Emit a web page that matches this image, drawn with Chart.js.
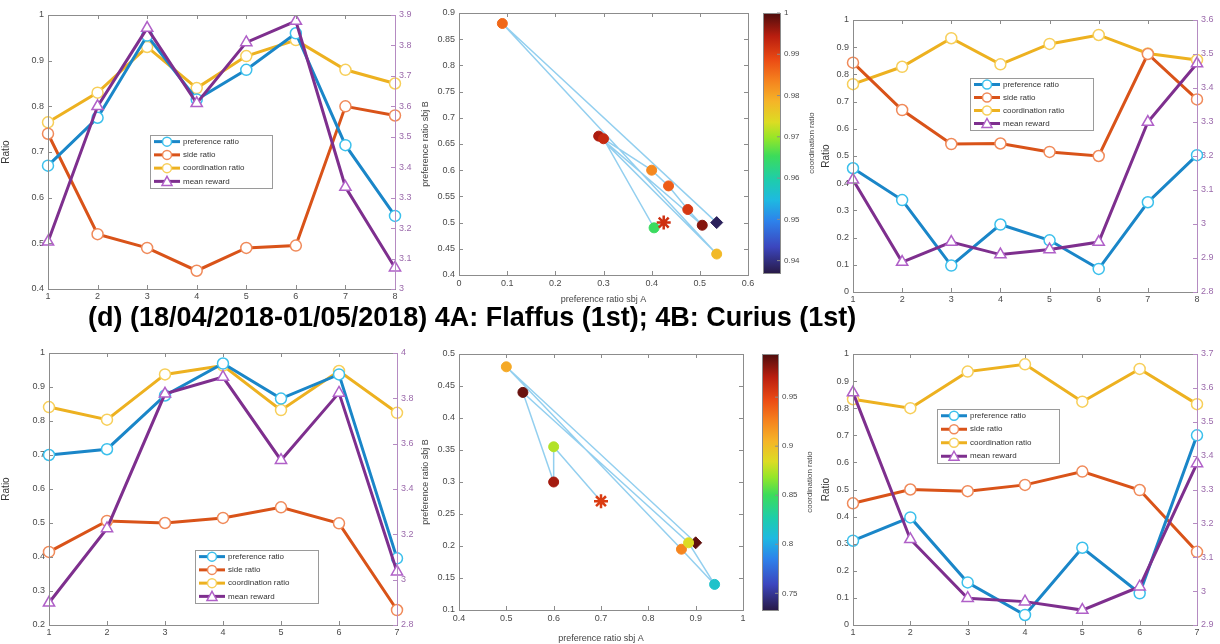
<!DOCTYPE html>
<html>
<head>
<meta charset="utf-8">
<script src="https://cdn.jsdelivr.net/npm/chart.js@4.4.1/dist/chart.umd.min.js"></script>
<style>
  body { margin: 0; background: #fff; width: 1220px; height: 644px; position: relative; overflow: hidden; }
  canvas { position: absolute; }
  #title { position: absolute; left: 88px; top: 302px; font: bold 27px "Liberation Sans", Arial, sans-serif; color: #000; white-space: nowrap; }
</style>
</head>
<body>
<canvas id="c1" width="420" height="305" style="left:0;top:0"></canvas>
<canvas id="c2" width="400" height="305" style="left:420px;top:0"></canvas>
<canvas id="c3" width="400" height="305" style="left:820px;top:0"></canvas>
<div id="title">(d) (18/04/2018-01/05/2018) 4A: Flaffus (1st); 4B: Curius (1st)</div>
<canvas id="c4" width="420" height="314" style="left:0;top:330px"></canvas>
<canvas id="c5" width="400" height="314" style="left:420px;top:330px"></canvas>
<canvas id="c6" width="400" height="314" style="left:820px;top:330px"></canvas>
<script>
// ---- data ----
const sessions8 = ['1', '2', '3', '4', '5', '6', '7', '8'];
const sessions7 = ['1', '2', '3', '4', '5', '6', '7'];

// top left (8 sessions)
const tlPref   = [0.67, 0.775, 0.955, 0.815, 0.88, 0.96, 0.715, 0.56];
const tlSide   = [0.74, 0.52, 0.49, 0.44, 0.49, 0.495, 0.80, 0.78];
const tlCoord  = [0.765, 0.83, 0.93, 0.84, 0.91, 0.945, 0.88, 0.85];
const tlReward = [3.155, 3.60, 3.857, 3.61, 3.81, 3.88, 3.335, 3.07];

// top right (8 sessions)
const trPref   = [0.455, 0.338, 0.097, 0.248, 0.19, 0.085, 0.33, 0.503];
const trSide   = [0.843, 0.669, 0.544, 0.546, 0.515, 0.50, 0.875, 0.708];
const trCoord  = [0.764, 0.828, 0.933, 0.837, 0.912, 0.945, 0.877, 0.853];
const trReward = [3.13, 2.888, 2.947, 2.91, 2.925, 2.947, 3.30, 3.472];

// bottom left (7 sessions)
const blPref   = [0.70, 0.717, 0.875, 0.969, 0.866, 0.937, 0.396];
const blSide   = [0.415, 0.506, 0.50, 0.515, 0.546, 0.499, 0.244];
const blCoord  = [0.841, 0.804, 0.937, 0.963, 0.832, 0.947, 0.824];
const blReward = [2.898, 3.226, 3.82, 3.894, 3.527, 3.824, 3.035];

// bottom right (7 sessions)
const brPref   = [0.311, 0.397, 0.157, 0.037, 0.285, 0.117, 0.70];
const brSide   = [0.449, 0.50, 0.494, 0.517, 0.566, 0.498, 0.27];
const brCoord  = [0.833, 0.80, 0.935, 0.962, 0.824, 0.945, 0.815];
const brReward = [3.586, 3.153, 2.979, 2.969, 2.944, 3.013, 3.377];

// top middle scatter: preference ratio sbj A / sbj B, coloured by coordination ratio
const tmA     = [0.535, 0.09, 0.535, 0.29, 0.505, 0.475, 0.435, 0.40, 0.30, 0.405, 0.425];
const tmB     = [0.50, 0.88, 0.44, 0.665, 0.495, 0.525, 0.57, 0.60, 0.66, 0.49, 0.50];
const tmCoord = [0.938, 0.986, 0.978, 0.995, 0.997, 0.991, 0.987, 0.983, 0.993, 0.965, 0.992];
const tmCbTicks = [0.94, 0.95, 0.96, 0.97, 0.98, 0.99, 1];

// bottom middle scatter
const bmA     = [0.90, 0.50, 0.87, 0.94, 0.885, 0.535, 0.60, 0.60, 0.70];
const bmB     = [0.205, 0.48, 0.195, 0.14, 0.205, 0.44, 0.30, 0.355, 0.27];
const bmCoord = [0.99, 0.91, 0.925, 0.815, 0.885, 0.988, 0.975, 0.875, 0.955];
const bmCbTicks = [0.75, 0.8, 0.85, 0.9, 0.95];

const seriesNames = ['preference ratio', 'side ratio', 'coordination ratio', 'mean reward'];

// ---- styling helpers ----
const FONT = 'Liberation Sans, Arial, sans-serif';
const AXIS_GREY = '#8c8c8c';
const TICK_COL = '#4a4a4a';
const COLORS = ['#1a86c8', '#d95319', '#edb120', '#7e2f8e'];
const MARKER_EDGE = ['#3cc0ec', '#f08a5a', '#f7cf5a', '#b060c8'];

// colormap stops, bottom (0) to top (1)
const cmapStops = [
  [0.00, [40, 26, 72]], [0.10, [60, 70, 190]], [0.20, [45, 130, 235]], [0.28, [30, 185, 225]],
  [0.36, [30, 205, 170]], [0.45, [60, 220, 90]], [0.52, [150, 230, 40]], [0.58, [220, 220, 35]],
  [0.66, [245, 180, 40]], [0.74, [245, 130, 30]], [0.82, [235, 75, 20]], [0.91, [185, 30, 15]],
  [1.00, [77, 13, 13]]
];
function cmap(t) {
  t = Math.max(0, Math.min(1, t));
  for (let i = 1; i < cmapStops.length; i++) {
    if (t <= cmapStops[i][0]) {
      const a = cmapStops[i - 1], b = cmapStops[i];
      const f = (t - a[0]) / (b[0] - a[0]);
      const c = a[1].map((v, k) => Math.round(v + (b[1][k] - v) * f));
      return 'rgb(' + c.join(',') + ')';
    }
  }
  return 'rgb(77,13,13)';
}

// matlab-like tick text: 0.9 not 0.90, 1 not 1.0
const fmt = v => String(parseFloat(Number(v).toFixed(4)));

// frame with inward ticks, like a boxed matlab axes
const boxPlugin = {
  id: 'box',
  afterDatasetsDraw(chart) {
    const {ctx, chartArea: a, scales} = chart;
    ctx.save();
    ctx.strokeStyle = AXIS_GREY;
    ctx.lineWidth = 1;
    ctx.strokeRect(a.left + 0.5, a.top + 0.5, a.right - a.left, a.bottom - a.top);
    const len = 4;
    ctx.beginPath();
    scales.x.ticks.forEach((t, i) => {
      const px = Math.round(scales.x.getPixelForTick(i)) + 0.5;
      ctx.moveTo(px, a.bottom); ctx.lineTo(px, a.bottom - len);
      ctx.moveTo(px, a.top); ctx.lineTo(px, a.top + len);
    });
    scales.y.ticks.forEach((t, i) => {
      const py = Math.round(scales.y.getPixelForTick(i)) + 0.5;
      ctx.moveTo(a.left, py); ctx.lineTo(a.left + len, py);
      if (!scales.y2) { ctx.moveTo(a.right, py); ctx.lineTo(a.right - len, py); }
    });
    ctx.stroke();
    if (scales.y2) {
      ctx.strokeStyle = '#b58bc2';
      ctx.beginPath();
      ctx.moveTo(a.right + 0.5, a.top); ctx.lineTo(a.right + 0.5, a.bottom);
      scales.y2.ticks.forEach((t, i) => {
        const py = Math.round(scales.y2.getPixelForTick(i)) + 0.5;
        ctx.moveTo(a.right, py); ctx.lineTo(a.right - len, py);
      });
      ctx.stroke();
    }
    ctx.restore();
  }
};

// legend box inside the axes
const boxLegendPlugin = {
  id: 'boxLegend',
  afterDraw(chart, args, opts) {
    if (!opts || opts.x === undefined) return;
    const ctx = chart.ctx;
    const ds = chart.data.datasets;
    const rowH = opts.h / ds.length;
    ctx.save();
    ctx.fillStyle = '#fff';
    ctx.fillRect(opts.x, opts.y, opts.w, opts.h);
    ctx.strokeStyle = '#9a9a9a';
    ctx.lineWidth = 1;
    ctx.strokeRect(opts.x + 0.5, opts.y + 0.5, opts.w, opts.h);
    ctx.font = '8px ' + FONT;
    ctx.textBaseline = 'middle';
    ds.forEach((d, i) => {
      const cy = opts.y + rowH * (i + 0.5);
      ctx.strokeStyle = d.borderColor;
      ctx.lineWidth = 3;
      ctx.beginPath();
      ctx.moveTo(opts.x + 4, cy); ctx.lineTo(opts.x + 30, cy);
      ctx.stroke();
      ctx.fillStyle = '#fff';
      ctx.strokeStyle = d.pointBorderColor;
      ctx.lineWidth = 1.5;
      ctx.beginPath();
      if (d.pointStyle === 'triangle') {
        ctx.moveTo(opts.x + 17, cy - 5); ctx.lineTo(opts.x + 22, cy + 4); ctx.lineTo(opts.x + 12, cy + 4); ctx.closePath();
      } else {
        ctx.arc(opts.x + 17, cy, 4.5, 0, Math.PI * 2);
      }
      ctx.fill(); ctx.stroke();
      ctx.fillStyle = '#333';
      ctx.fillText(d.label, opts.x + 33, cy);
    });
    ctx.restore();
  }
};

// colour bar next to the scatter axes
const colorbarPlugin = {
  id: 'colorbar',
  afterDraw(chart, args, o) {
    if (!o || o.min === undefined) return;
    const ctx = chart.ctx;
    ctx.save();
    const g = ctx.createLinearGradient(0, o.bottom, 0, o.top);
    cmapStops.forEach(s => g.addColorStop(s[0], 'rgb(' + s[1].join(',') + ')'));
    ctx.fillStyle = g;
    ctx.fillRect(o.x, o.top, o.w, o.bottom - o.top);
    ctx.strokeStyle = AXIS_GREY;
    ctx.lineWidth = 1;
    ctx.strokeRect(o.x + 0.5, o.top + 0.5, o.w, o.bottom - o.top);
    ctx.font = '8px ' + FONT;
    ctx.fillStyle = TICK_COL;
    ctx.textBaseline = 'middle';
    o.ticks.forEach(v => {
      const py = o.bottom - (v - o.min) / (o.max - o.min) * (o.bottom - o.top);
      ctx.beginPath();
      ctx.moveTo(o.x + o.w, py); ctx.lineTo(o.x + o.w - 3, py);
      ctx.stroke();
      ctx.fillText(fmt(v), o.x + o.w + 4, py);
    });
    ctx.translate(o.x + o.w + 32, (o.top + o.bottom) / 2);
    ctx.rotate(-Math.PI / 2);
    ctx.textAlign = 'center';
    ctx.fillText(o.title, 0, 0);
    ctx.restore();
  }
};

Chart.register(boxPlugin, boxLegendPlugin, colorbarPlugin);

function fitW(w) { return s => { s.width = w; }; }
function fitH(h) { return s => { s.height = h; }; }

const noGrid = { display: false, drawTicks: false, tickLength: 0 };

function lineSet(i, data, axis, order) {
  return {
    label: seriesNames[i],
    data: data,
    yAxisID: axis,
    order: order,
    borderColor: COLORS[i],
    borderWidth: 3,
    pointStyle: i === 3 ? 'triangle' : 'circle',
    pointRadius: i === 3 ? 6.5 : 5.5,
    pointBackgroundColor: '#fff',
    pointBorderColor: MARKER_EDGE[i],
    pointBorderWidth: 1.5,
    tension: 0
  };
}

function lineChart(id, cats, pref, side, coord, reward, L) {
  const h = document.getElementById(id).height;
  return new Chart(document.getElementById(id), {
    type: 'line',
    data: {
      labels: cats,
      datasets: [
        lineSet(0, pref, 'y', 1),
        lineSet(1, side, 'y', 2),
        lineSet(2, coord, 'y', 3),
        lineSet(3, reward, 'y2', 0)
      ]
    },
    options: {
      responsive: false,
      animation: false,
      layout: { padding: { top: L.top, left: 0, right: 0, bottom: 0 } },
      plugins: { legend: { display: false }, tooltip: { enabled: false }, boxLegend: L.legend },
      scales: {
        x: {
          type: 'category',
          offset: false,
          grid: noGrid,
          border: { display: false },
          ticks: { font: { size: 9, family: FONT }, color: TICK_COL, padding: 2, maxRotation: 0, autoSkip: false },
          afterFit: fitH(h - L.bottom)
        },
        y: {
          position: 'left',
          min: L.ymin, max: L.ymax,
          grid: noGrid,
          border: { display: false },
          ticks: { stepSize: 0.1, font: { size: 9, family: FONT }, color: TICK_COL, padding: 4, callback: fmt },
          title: { display: true, text: 'Ratio', font: { size: 10, family: FONT }, color: '#333', padding: 0 },
          afterFit: fitW(L.yw)
        },
        y2: {
          position: 'right',
          min: L.rmin, max: L.rmax,
          grid: noGrid,
          border: { display: false },
          ticks: { stepSize: L.rstep, font: { size: 9, family: FONT }, color: '#9b6aab', padding: 4, callback: fmt },
          afterFit: fitW(L.rw)
        }
      }
    }
  });
}

function scatterChart(id, a, b, coord, S) {
  const h = document.getElementById(id).height;
  const colors = coord.map(v => cmap((v - S.cb.min) / (S.cb.max - S.cb.min)));
  const styles = a.map((v, i) => i === 0 ? 'rectRot' : (i === a.length - 1 ? 'star' : 'circle'));
  const radii = a.map((v, i) => i === a.length - 1 ? 7 : (i === 0 ? 6 : 5));
  return new Chart(document.getElementById(id), {
    type: 'scatter',
    data: {
      datasets: [{
        data: a.map((v, i) => ({ x: v, y: b[i] })),
        showLine: true,
        borderColor: 'rgba(120, 195, 235, 0.8)',
        borderWidth: 1.5,
        pointStyle: styles,
        pointRadius: radii,
        pointBackgroundColor: colors,
        pointBorderColor: colors,
        pointBorderWidth: styles.map(s => s === 'star' ? 2.5 : 1)
      }]
    },
    options: {
      responsive: false,
      animation: false,
      layout: { padding: { top: S.top, left: 0, right: S.right, bottom: 0 } },
      plugins: { legend: { display: false }, tooltip: { enabled: false }, colorbar: S.cb },
      scales: {
        x: {
          min: S.xmin, max: S.xmax,
          grid: noGrid,
          border: { display: false },
          ticks: { stepSize: 0.1, font: { size: 9, family: FONT }, color: TICK_COL, padding: 3, maxRotation: 0, callback: fmt },
          title: { display: true, text: 'preference ratio sbj A', font: { size: 9, family: FONT }, color: '#444', padding: 0 },
          afterFit: fitH(h - S.bottom)
        },
        y: {
          min: S.ymin, max: S.ymax,
          grid: noGrid,
          border: { display: false },
          ticks: { stepSize: 0.05, font: { size: 9, family: FONT }, color: TICK_COL, padding: 4, callback: fmt },
          title: { display: true, text: 'preference ratio sbj B', font: { size: 9, family: FONT }, color: '#444', padding: 0 },
          afterFit: fitW(S.yw)
        }
      }
    }
  });
}

lineChart('c1', sessions8, tlPref, tlSide, tlCoord, tlReward, {
  top: 15, bottom: 289, yw: 48, rw: 25, ymin: 0.4, ymax: 1, rmin: 3, rmax: 3.9, rstep: 0.1,
  legend: { x: 150, y: 135, w: 122, h: 53 }
});

scatterChart('c2', tmA, tmB, tmCoord, {
  top: 13, bottom: 275, right: 72, yw: 39, xmin: 0, xmax: 0.6, ymin: 0.4, ymax: 0.9,
  cb: { min: 0.937, max: 1, ticks: tmCbTicks, x: 343, w: 17, top: 13, bottom: 273, title: 'coordination ratio' }
});

lineChart('c3', sessions8, trPref, trSide, trCoord, trReward, {
  top: 20, bottom: 292, yw: 33, rw: 23, ymin: 0, ymax: 1, rmin: 2.8, rmax: 3.6, rstep: 0.1,
  legend: { x: 150, y: 78, w: 123, h: 52 }
});

lineChart('c4', sessions7, blPref, blSide, blCoord, blReward, {
  top: 23, bottom: 295, yw: 49, rw: 23, ymin: 0.2, ymax: 1, rmin: 2.8, rmax: 4, rstep: 0.2,
  legend: { x: 195, y: 220, w: 123, h: 53 }
});

scatterChart('c5', bmA, bmB, bmCoord, {
  top: 24, bottom: 280, right: 77, yw: 39, xmin: 0.4, xmax: 1, ymin: 0.1, ymax: 0.5,
  cb: { min: 0.733, max: 0.994, ticks: bmCbTicks, x: 342, w: 16, top: 24, bottom: 280, title: 'coordination ratio' }
});

lineChart('c6', sessions7, brPref, brSide, brCoord, brReward, {
  top: 24, bottom: 295, yw: 33, rw: 23, ymin: 0, ymax: 1, rmin: 2.9, rmax: 3.7, rstep: 0.1,
  legend: { x: 117, y: 79, w: 122, h: 54 }
});
</script>
</body>
</html>
